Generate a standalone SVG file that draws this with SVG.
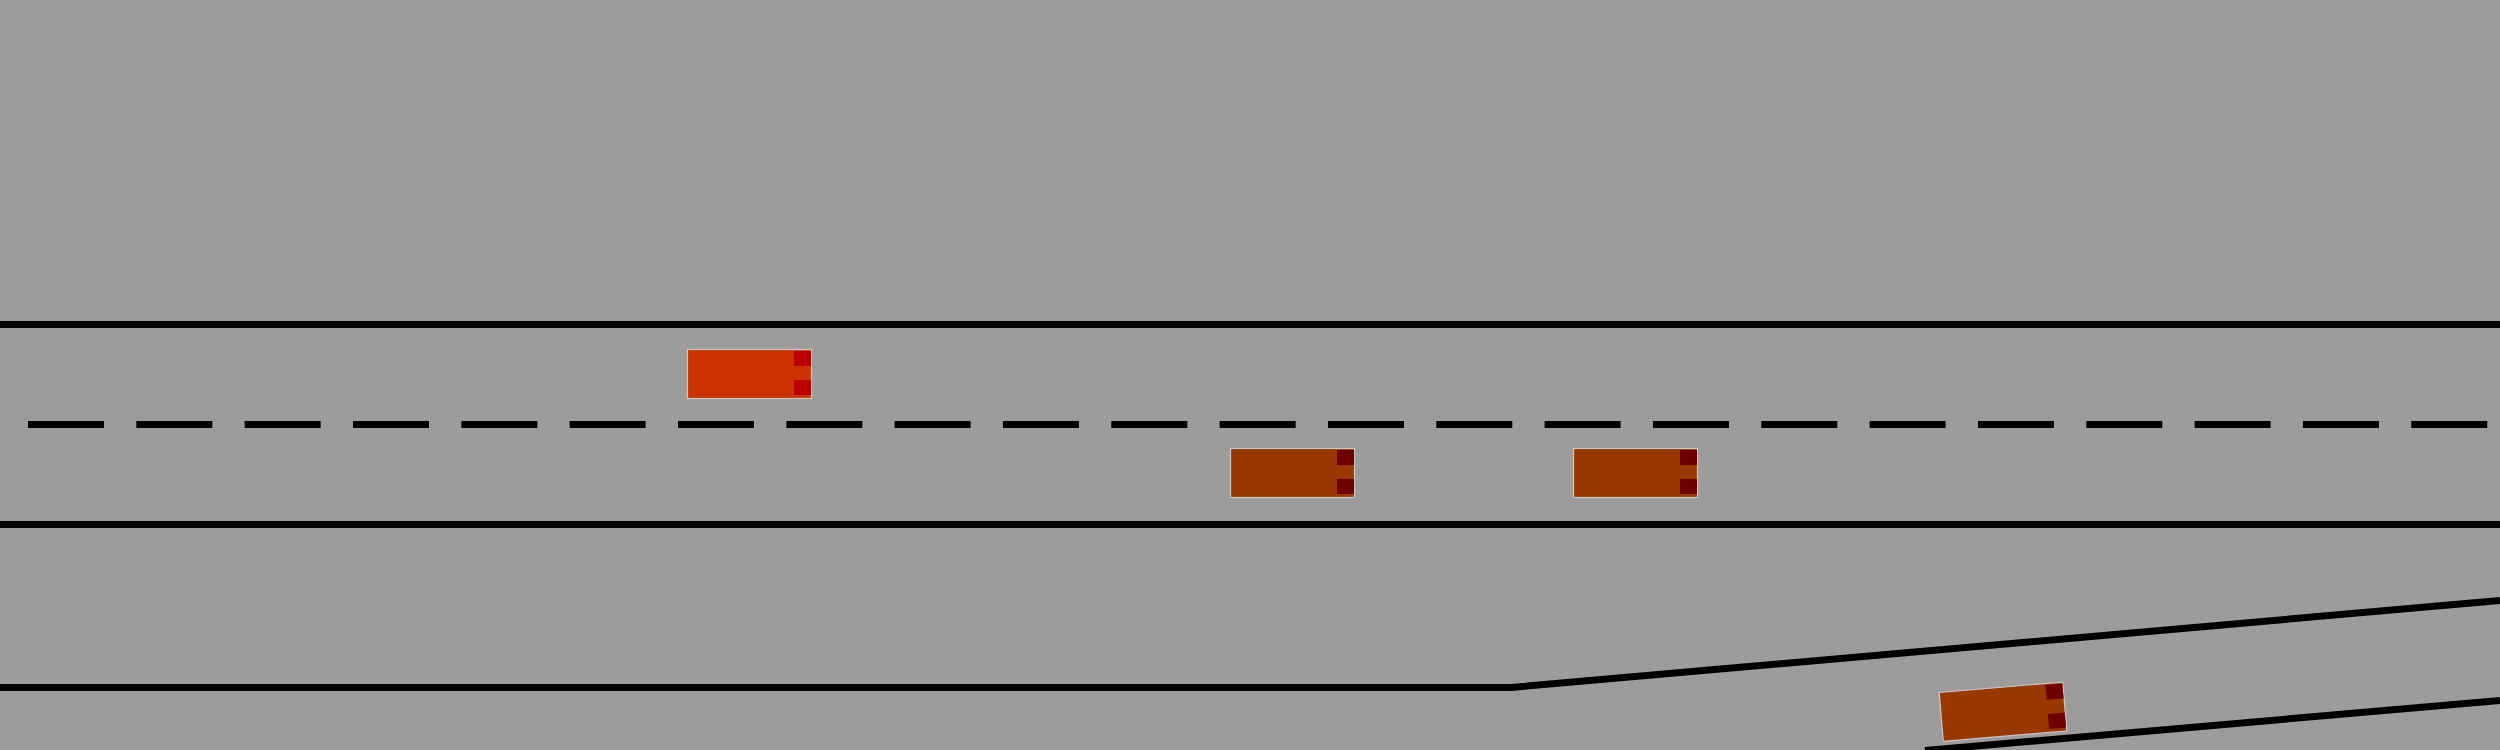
<svg xmlns="http://www.w3.org/2000/svg" width="2500" height="750" viewBox="0 0 2500 750">
<style>
.road{stroke:#000;stroke-width:7;fill:none}
.dash{stroke:#000;stroke-width:7;fill:none;stroke-dasharray:76 32.33}
.body{stroke:#c8c8c8;stroke-width:1.2}
.red-body{fill:#cc3300}
.red-lamp{fill:#bb0000}
.brown-body{fill:#993800}
.brown-lamp{fill:#700000}
</style>
<rect x="0" y="0" width="2500" height="750" fill="#9c9c9c"/>
<g id="roads">
<line class="road" x1="0" y1="324.5" x2="2500" y2="324.5"/>
<line class="dash" x1="28" y1="424.5" x2="2500" y2="424.5"/>
<line class="road" x1="0" y1="524.5" x2="2500" y2="524.5"/>
<polyline class="road" points="0,687.5 1511,687.5 2500,600.5"/>
<line class="road" x1="1925" y1="750.5" x2="2500" y2="700.5"/>
</g>
<g id="car1" transform="translate(687.5,349.5)">
<rect class="body red-body" x="0" y="0" width="124" height="49"/>
<rect class="red-lamp" x="106.5" y="1.5" width="17" height="15"/>
<rect class="red-lamp" x="106.5" y="30.5" width="17" height="15"/>
</g>
<g id="car2" transform="translate(1230.5,448.5)">
<rect class="body brown-body" x="0" y="0" width="124" height="49"/>
<rect class="brown-lamp" x="106.5" y="1.5" width="17" height="15"/>
<rect class="brown-lamp" x="106.5" y="30.5" width="17" height="15"/>
</g>
<g id="car3" transform="translate(1573.5,448.5)">
<rect class="body brown-body" x="0" y="0" width="124" height="49"/>
<rect class="brown-lamp" x="106.5" y="1.5" width="17" height="15"/>
<rect class="brown-lamp" x="106.5" y="30.5" width="17" height="15"/>
</g>
<g id="car4" transform="translate(2003,711.7) rotate(-4.8) translate(-62,-24.5)">
<rect class="body brown-body" x="0" y="0" width="124" height="49"/>
<rect class="brown-lamp" x="106.5" y="1.5" width="17" height="15"/>
<rect class="brown-lamp" x="106.5" y="30.5" width="17" height="15"/>
</g>
</svg>
